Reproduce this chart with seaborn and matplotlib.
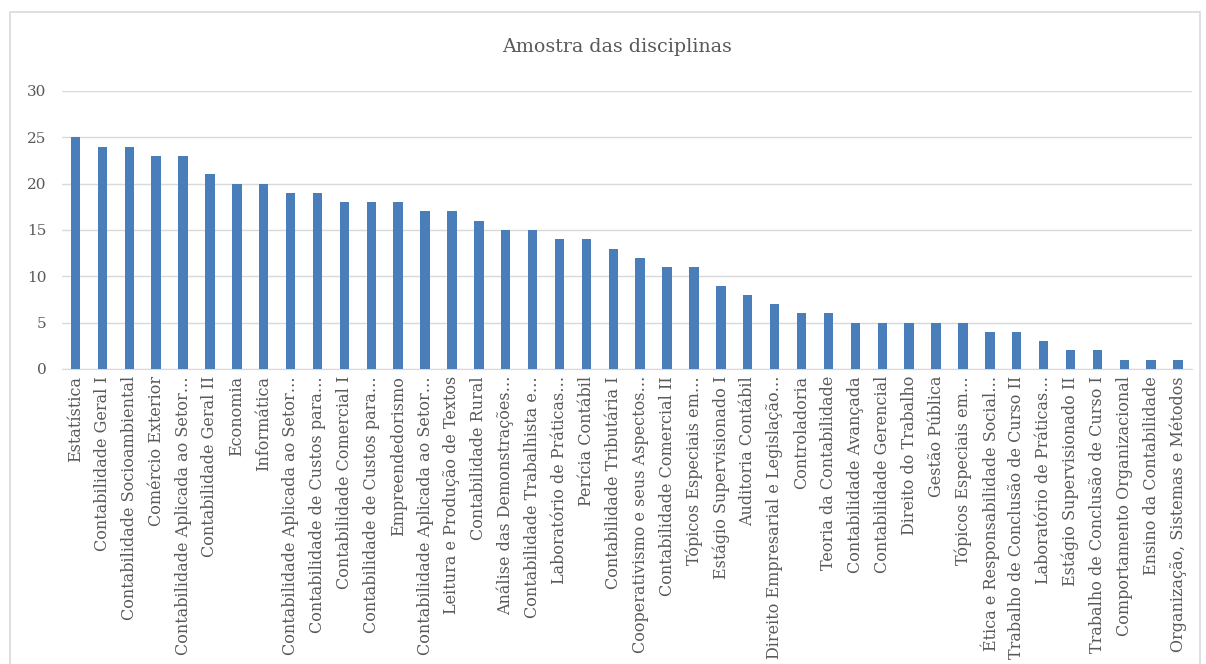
import numpy as np
import pandas as pd
import matplotlib
matplotlib.use("Agg")
import matplotlib.pyplot as plt
import seaborn as sns
from matplotlib.patches import Rectangle

# =========================
# DATA
# =========================

disciplinas = [
    "Estatística",
    "Contabilidade Geral I",
    "Contabilidade Socioambiental",
    "Comércio Exterior",
    "Contabilidade Aplicada ao Setor…",
    "Contabilidade Geral II",
    "Economia",
    "Informática",
    "Contabilidade Aplicada ao Setor…",
    "Contabilidade de Custos para…",
    "Contabilidade Comercial I",
    "Contabilidade de Custos para…",
    "Empreendedorismo",
    "Contabilidade Aplicada ao Setor…",
    "Leitura e Produção de Textos",
    "Contabilidade Rural",
    "Análise das Demonstrações…",
    "Contabilidade Trabalhista e…",
    "Laboratório de Práticas…",
    "Perícia Contábil",
    "Contabilidade Tributária I",
    "Cooperativismo e seus Aspectos…",
    "Contabilidade Comercial II",
    "Tópicos Especiais em…",
    "Estágio Supervisionado I",
    "Auditoria Contábil",
    "Direito Empresarial e Legislação…",
    "Controladoria",
    "Teoria da Contabilidade",
    "Contabilidade Avançada",
    "Contabilidade Gerencial",
    "Direito do Trabalho",
    "Gestão Pública",
    "Tópicos Especiais em…",
    "Ética e Responsabilidade Social…",
    "Trabalho de Conclusão de Curso II",
    "Laboratório de Práticas…",
    "Estágio Supervisionado II",
    "Trabalho de Conclusão de Curso I",
    "Comportamento Organizacional",
    "Ensino da Contabilidade",
    "Organização, Sistemas e Métodos",
]

quantidade = [25, 24, 24, 23, 23, 21, 20, 20, 19, 19, 18, 18, 18, 17, 17, 16,
              15, 15, 14, 14, 13, 12, 11, 11, 9, 8, 7, 6, 6, 5, 5, 5, 5, 5,
              4, 4, 3, 2, 2, 1, 1, 1]

yticks = [0, 5, 10, 15, 20, 25, 30]

# =========================
# PLOT
# =========================

sns.set_style("white")
plt.rcParams["font.family"] = ["DejaVu Serif"]

df = pd.DataFrame({"pos": np.arange(len(quantidade)), "valor": quantidade})

fig = plt.figure(figsize=(12.06, 6.64), dpi=100)
ax = fig.add_axes([0.0514, 0.4443, 0.9366, 0.4187])

sns.barplot(data=df, x="pos", y="valor", color="#4A7EBB", saturation=1,
            width=0.35, ax=ax, zorder=3, linewidth=0)

ax.set_ylim(0, 30)
ax.set_xlim(-0.5, len(quantidade) - 0.5)
ax.set_yticks(yticks)
ax.set_yticklabels([str(t) for t in yticks], fontsize=11, color="#595959")
ax.set_xticks(np.arange(len(disciplinas)))
ax.set_xticklabels(disciplinas, rotation=90, fontsize=11.5, color="#595959")
ax.tick_params(axis="both", length=0, pad=5)
ax.tick_params(axis="y", pad=11)
ax.set_xlabel("")
ax.set_ylabel("")

ax.grid(axis="y", color="#D9D9D9", linewidth=1, zorder=0)
for s in ["top", "right", "left"]:
    ax.spines[s].set_visible(False)
ax.spines["bottom"].set_color("#D9D9D9")

fig.text(0.512, 0.929, "Amostra das disciplinas", ha="center", va="center",
         fontsize=13.7, color="#595959")

# moldura do gráfico
fig.patches.append(Rectangle((10 / 1206, -0.01), 1190 / 1206, 1 - 12 / 664 + 0.01,
                             transform=fig.transFigure, fill=False,
                             edgecolor="#D9D9D9", linewidth=1.2))

fig.savefig("out.png", dpi=100, facecolor="white")
plt.close()
